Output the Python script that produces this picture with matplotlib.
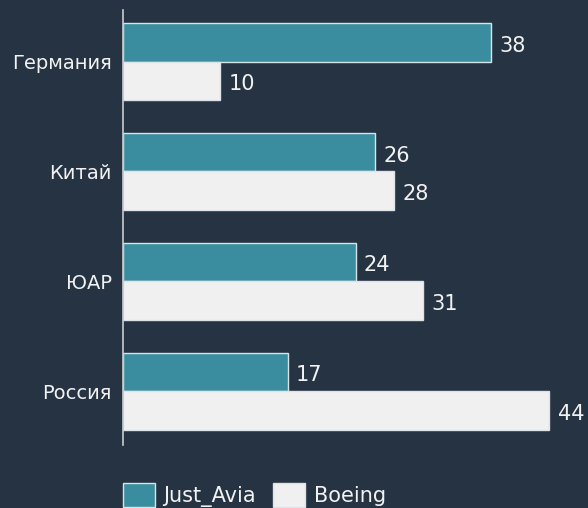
import matplotlib
matplotlib.use("Agg")
import matplotlib.pyplot as plt
import numpy as np

categories = ["Германия", "Китай", "ЮАР", "Россия"]
just_avia = [38, 26, 24, 17]
boeing = [10, 28, 31, 44]
series_names = ["Just_Avia", "Boeing"]

bg = "#253342"
teal = "#3a8d9e"
white = "#f0f0f0"
txt = "#f2f2f2"

plt.rcParams['font.family'] = ['DejaVu Sans']

fig = plt.figure(figsize=(5.88, 5.08), dpi=100, facecolor=bg)
ax = fig.add_axes([123/588, 63/508, 1 - 123/588, 435/508])
ax.set_facecolor(bg)

y = np.arange(len(categories))
h = 0.35
b1 = ax.barh(y - h/2, just_avia, height=h, color=teal, edgecolor="#d8e4e8", linewidth=1.0, label=series_names[0])
b2 = ax.barh(y + h/2, boeing, height=h, color=white, edgecolor="#dde3e8", linewidth=1.0, label=series_names[1])

for bars, vals in ((b1, just_avia), (b2, boeing)):
    for r, v in zip(bars, vals):
        ax.annotate(str(v), (r.get_width(), r.get_y() + r.get_height()/2),
                    xytext=(6, -1), textcoords="offset points", va="center_baseline", ha="left",
                    color=txt, fontsize=15)

ax.set_xlim(0, 48)
ax.set_ylim(3.49, -0.47)
ax.set_yticks(y)
ax.set_yticklabels(categories, color=txt, fontsize=14)
ax.tick_params(axis='y', length=0, pad=8)
ax.set_xticks([])
for s in ("top", "right", "bottom"):
    ax.spines[s].set_visible(False)
ax.spines["left"].set_color("#c8ccd0")
ax.spines["left"].set_linewidth(1.2)

leg = fig.legend(handles=[b1, b2], labels=series_names, loc="lower left",
                 bbox_to_anchor=(123/588, 1/508), ncol=2, frameon=False,
                 fontsize=15, handlelength=1.55, handleheight=1.4, handletextpad=0.4,
                 columnspacing=0.8, labelcolor=txt, borderpad=0, borderaxespad=0)

fig.savefig("out.png", dpi=100, facecolor=bg)
